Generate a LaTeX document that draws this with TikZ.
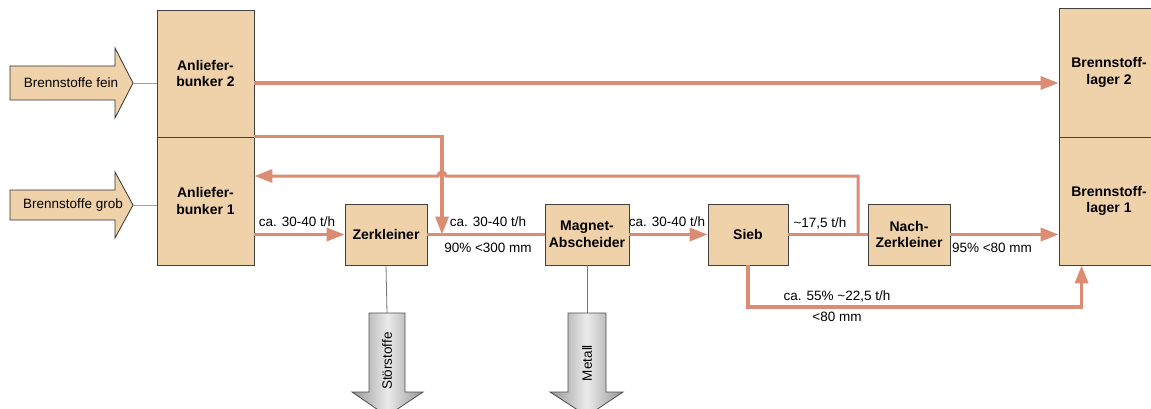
\documentclass[tikz,border=0pt]{standalone}
\usepackage{fontspec}
\setmainfont{Liberation Sans}
\usetikzlibrary{calc,arrows.meta}
\definecolor{boxtan}{RGB}{239,210,170}
\definecolor{flowred}{RGB}{220,140,114}
\definecolor{wastegray}{RGB}{150,150,150}
\tikzset{
	unit/.style={draw=black!75, fill=boxtan, line width=0.8pt, align=center, inner sep=0pt,
		font=\fontsize{14}{16.5}\selectfont\bfseries},
	flow/.style={draw=flowred, line width=3.5pt},
	back/.style={draw=flowred, line width=3pt},
	tip/.style={-{Triangle[length=18pt,width=13pt]}},
	lbl/.style={font=\fontsize{13.5}{16}\selectfont, inner sep=0pt},
	feed/.style={draw=black!80, fill=boxtan, line width=0.8pt},
	waste/.style={draw=black!70, line width=0.8pt, left color=wastegray, right color=wastegray, middle color=black!8},
	hair/.style={line width=0.8pt}
}

\begin{document}
\begin{tikzpicture}[x=1pt, y=-1pt]
			%%%%% START %%%%%
			\useasboundingbox (0,0) rectangle (1151,409);
			
			% bunker and storage columns
			\node[unit, minimum width=97pt, minimum height=127pt] (bunkerB) at (205.5, 73.5) {Anliefer-\\bunker 2};
			\node[unit, minimum width=97pt, minimum height=128pt] (bunkerA) at (205.5, 201) {Anliefer-\\bunker 1};
			\node[unit, minimum width=100pt, minimum height=129pt] (lagerB) at (1109, 72.5) {Brennstoff-\\lager 2};
			\node[unit, minimum width=100pt, minimum height=128pt] (lagerA) at (1109, 201) {Brennstoff-\\lager 1};
			
			% process line
			\node[unit, minimum width=82pt, minimum height=61pt] (zerk) at (386, 234.5) {Zerkleiner};
			\node[unit, minimum width=84pt, minimum height=61pt] (magnet) at (587, 234.5) {Magnet-\\Abscheider};
			\node[unit, minimum width=80pt, minimum height=61pt] (sieb) at (748, 234.5) {Sieb};
			\node[unit, minimum width=82pt, minimum height=61pt] (nach) at (909, 234.5) {Nach-\\Zerkleiner};
			
			% incoming fuel
			\draw[feed] (10, 66) -- (115, 66) -- (115, 48) -- (133, 83) -- (115, 118) -- (115, 100) -- (10, 100) -- cycle;
			\node[lbl] (fein) at (71, 83) {Brennstoffe fein};
			\coordinate (feinTip) at (133, 83);
			\draw[feed] (10, 190) -- (115, 190) -- (115, 172) -- (133, 205) -- (115, 238) -- (115, 220) -- (10, 220) -- cycle;
			\node[lbl] (grob) at (73, 205) {Brennstoffe grob};
			\coordinate (grobTip) at (133, 205);
			\draw[hair, flowred] (feinTip) -- (bunkerB.west |- feinTip);
			\draw[hair, flowred] (grobTip) -- (bunkerA.west |- grobTip);
			
			% rejects
			\draw[waste] (369, 313) -- (405, 313) -- (405, 392) -- (423, 392) -- (387, 416) -- (352, 392) -- (369, 392) -- cycle;
			\node[lbl, rotate=90] (stoer) at (387, 361) {Störstoffe};
			\coordinate (stoerTop) at (387, 313);
			\draw[waste] (568, 313) -- (606, 313) -- (606, 392) -- (623, 392) -- (587, 416) -- (550, 392) -- (568, 392) -- cycle;
			\node[lbl, rotate=90] (metall) at (587, 363) {Metall};
			\coordinate (metallTop) at (587, 313);
			\draw[hair, black!55] (zerk.south) -- (stoerTop);
			\draw[hair, black!55] (magnet.south) -- (metallTop);
			
			% material flow
			\draw[flow, tip] (bunkerB.east |- fein) -- (lagerB.west |- fein);
			\coordinate (merge) at (442, 234.5);
			\draw[flow, tip] (bunkerA.north east) -| (merge);
			\draw[flow, tip] (bunkerA.east |- zerk) -- (zerk.west);
			\draw[flow] (zerk.east) -- (magnet.west);
			\draw[flow, tip] (magnet.east) -- (sieb.west);
			\draw[flow] (sieb.east) -- (nach.west);
			\draw[flow, tip] (nach.east) -- (lagerA.west |- nach);
			\draw[flow, tip] (sieb.south) -- ++(0, 41.5) -| ($(lagerA.south west)+(23, 0)$);
			
			% oversize back to bunker 1
			\coordinate (split) at (858, 234.5);
			\coordinate (hop) at (446, 176);
			\draw[back, tip] (split) |- (hop) arc[start angle=0, end angle=-180, radius=4] -- (bunkerA.east |- hop);
			
			% rates and sizes
			\node[lbl] (rateA) at (297, 222) {ca. 30-40 t/h};
			\node[lbl] (rateB) at (488, 222) {ca. 30-40 t/h};
			\node[lbl] (sizeB) at (488, 248) {90\% <300 mm};
			\node[lbl] (rateC) at (667, 222) {ca. 30-40 t/h};
			\node[lbl] (rateD) at (820, 223) {\textasciitilde17,5 t/h};
			\node[lbl] (sizeD) at (992, 248) {95\% <80 mm};
			\node[lbl] (rateE) at (837, 296) {ca. 55\% \textasciitilde22,5 t/h};
			\node[lbl] (sizeE) at (837, 317) {<80 mm};
			
			%%%%% END %%%%%
\end{tikzpicture}
\end{document}
